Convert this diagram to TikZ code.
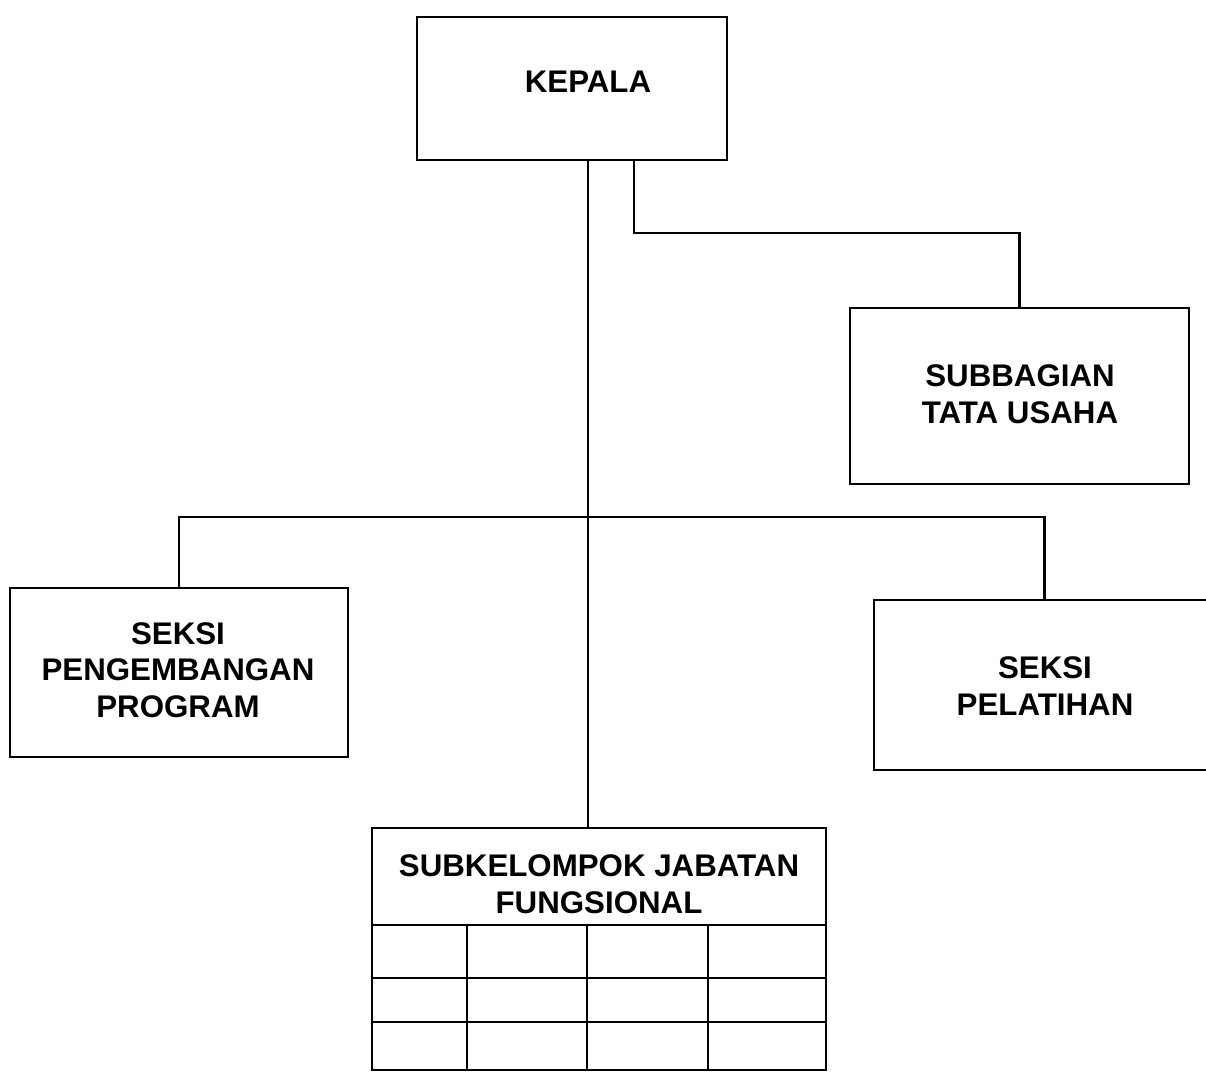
\documentclass[tikz,border=0pt]{standalone}
\usepackage{fontspec}
\setmainfont{Liberation Sans}
\begin{document}
\begin{tikzpicture}[x=0.02cm,y=-0.02cm,
  line width=1.6pt, line join=miter,
  box/.style={draw, rectangle, inner sep=0pt, outer sep=0pt},
  txt/.style={align=center, inner sep=0pt,
    font=\fontsize{17.8}{20.8}\selectfont\bfseries},
]
\useasboundingbox (0,0) rectangle (1206,1072);
% boxes
\node[box, minimum width=310*0.02cm, minimum height=143*0.02cm] (kepala) at (572,88.5) {};
\node[txt] (kepalat) at (588,82) {KEPALA};
\node[box, minimum width=339*0.02cm, minimum height=176*0.02cm] (tu) at (1019.5,396) {};
\node[txt] (tut) at (1020,394) {SUBBAGIAN\\TATA USAHA};
\node[box, minimum width=338*0.02cm, minimum height=169*0.02cm] (peng) at (179,672.5) {};
\node[txt] (pengt) at (178,670) {SEKSI\\PENGEMBANGAN\\PROGRAM};
\node[box, minimum width=341*0.02cm, minimum height=170*0.02cm] (pel) at (1044.5,685) {};
\node[txt] (pelt) at (1045,686) {SEKSI\\PELATIHAN};
\node[box, minimum width=454*0.02cm, minimum height=97*0.02cm] (sub) at (599,876.5) {};
\node[txt] (subt) at (599,884) {SUBKELOMPOK JABATAN\\FUNGSIONAL};
% table below header
\coordinate (tb) at (0,1070);
\draw (sub.south west) -- (sub.south west |- tb) -- (sub.south east |- tb) -- (sub.south east);
\foreach \yy in {978,1022} \draw (sub.south west |- 0,\yy) -- (sub.south east |- 0,\yy);
\foreach \xx in {467,587,708} \draw (sub.south -| \xx,0) -- (\xx,0 |- tb);
% connectors
\coordinate (trunk) at (588,0);
\coordinate (bus) at (0,517);
\coordinate (tuy) at (634,233);
\draw (kepala.south -| trunk) -- (trunk |- sub.north);
\draw (kepala.south -| tuy) -- (tuy) -- (tu.north |- tuy) -- (tu.north);
\draw (peng.north) -- (peng.north |- bus) -- (pel.north |- bus) -- (pel.north);
\end{tikzpicture}
\end{document}
